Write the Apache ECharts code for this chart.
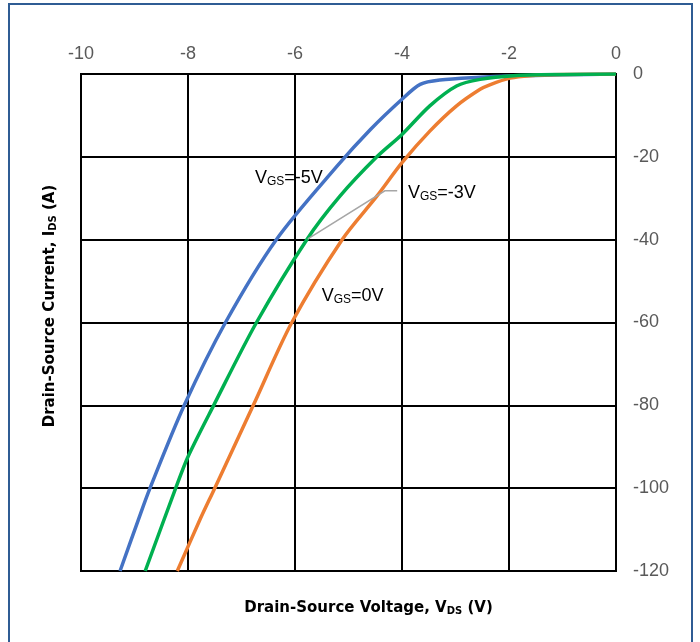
<!DOCTYPE html>
<html>
<head>
<meta charset="utf-8">
<script src="https://cdn.jsdelivr.net/npm/echarts@6/dist/echarts.min.js"></script>
<style>
  html, body { margin: 0; padding: 0; background: #fff; }
  #chart { width: 700px; height: 642px; }
</style>
</head>
<body>
<div id="chart"></div>
<script>
// Output characteristics: drain-source voltage (V) vs drain-source current (A)
const vdsTicks = [-10, -8, -6, -4, -2, 0];
const idsTicks = [0, -20, -40, -60, -80, -100, -120];

// VGS = -5V
const vgsMinus5Vds = [-9.27, -8.93, -8.71, -8.07, -7.30, -6.35, -5.21, -4.59, -4.0, -3.66, -3.29, -2.54, -2.0, -1.0, 0];
const vgsMinus5Ids = [-120, -107.7, -100, -80, -60, -40, -22.2, -13.4, -6.1, -2.5, -1.45, -0.8, -0.5, -0.2, 0];

// VGS = -3V
const vgsMinus3Vds = [-8.80, -8.23, -8.0, -7.52, -6.72, -5.78, -5.16, -4.47, -4.0, -3.48, -2.98, -2.54, -1.92, -1.0, 0];
const vgsMinus3Ids = [-120, -100, -92.4, -80, -60, -40, -29.5, -20, -14.6, -7.7, -2.9, -1.3, -0.4, -0.1, 0];

// VGS = 0V
const vgs0Vds = [-8.20, -7.78, -7.50, -6.78, -6.06, -5.12, -4.47, -4.0, -3.48, -2.98, -2.54, -2.36, -1.98, -1.61, -1.0, 0];
const vgs0Ids = [-120, -107.7, -100, -80, -60, -40, -29.5, -21.4, -13.8, -7.7, -3.7, -2.6, -1.0, -0.4, -0.12, 0];

// Curve labels: [text suffix, anchor vds, anchor ids]
const curveLabels = [
  ['-5V', -6.75, -25.1],
  ['-3V', -3.89, -28.7],
  ['0V', -5.50, -53.6]
];
// Leader line for the VGS=-3V label (vds, ids)
const leaderVds = [-4.09, -4.32, -5.76];
const leaderIds = [-28.2, -28.2, -39.8];

const zip = (xs, ys) => xs.map((x, i) => [x, ys[i]]);

const textGray = '#595959';
const tickFont = "'Liberation Sans Narrow', 'Liberation Sans', sans-serif";
const titleFont = "'DejaVu Sans', sans-serif";
const chart = echarts.init(document.getElementById('chart'), null, { renderer: 'canvas' });

const lineSeries = (name, xs, ys, color) => ({
  name: name,
  type: 'line',
  data: zip(xs, ys),
  smooth: 0.3,
  showSymbol: false,
  lineStyle: { color: color, width: 3.5 },
  itemStyle: { color: color },
  z: 3
});

chart.setOption({
  animation: false,
  backgroundColor: '#ffffff',
  grid: { left: 81, right: 84, top: 74, bottom: 71, containLabel: false },
  xAxis: {
    type: 'value',
    position: 'top',
    min: vdsTicks[0],
    max: vdsTicks[vdsTicks.length - 1],
    interval: 2,
    axisLine: { show: true, onZero: false, lineStyle: { color: '#000', width: 2 } },
    axisTick: { show: false },
    axisLabel: { color: textGray, fontSize: 18, margin: 11, fontFamily: tickFont },
    splitLine: { show: true, lineStyle: { color: '#000', width: 2 } }
  },
  yAxis: {
    type: 'value',
    position: 'right',
    min: idsTicks[idsTicks.length - 1],
    max: idsTicks[0],
    interval: 20,
    axisLine: { show: true, onZero: false, lineStyle: { color: '#000', width: 2 } },
    axisTick: { show: false },
    axisLabel: { color: textGray, fontSize: 18, margin: 17, align: 'left', fontFamily: tickFont },
    splitLine: { show: true, lineStyle: { color: '#000', width: 2 } }
  },
  series: [
    lineSeries('VGS=-5V', vgsMinus5Vds, vgsMinus5Ids, '#4472C4'),
    lineSeries('VGS=0V', vgs0Vds, vgs0Ids, '#ED7D31'),
    lineSeries('VGS=-3V', vgsMinus3Vds, vgsMinus3Ids, '#00B050')
  ]
});

const corner0 = chart.convertToPixel({ gridIndex: 0 }, [vdsTicks[0], idsTicks[idsTicks.length - 1]]);
const corner1 = chart.convertToPixel({ gridIndex: 0 }, [vdsTicks[vdsTicks.length - 1], idsTicks[0]]);

const richSub = {
  m: { fontSize: 18, color: textGray, fontFamily: tickFont },
  s: { fontSize: 12, color: textGray, fontFamily: tickFont, padding: [8, 0, 0, 0] }
};

const graphics = [];

// Outer chart border
graphics.push({
  type: 'rect',
  shape: { x: 9, y: 4, width: 683, height: 642 },
  style: { fill: 'none', stroke: '#2F5C94', lineWidth: 2 },
  silent: true, z: 0
});

// Plot-area frame
graphics.push({
  type: 'rect',
  shape: { x: corner0[0], y: corner1[1], width: corner1[0] - corner0[0], height: corner0[1] - corner1[1] },
  style: { fill: 'none', stroke: '#000', lineWidth: 2 },
  silent: true, z: 1
});

// Leader line
graphics.push({
  type: 'polyline',
  shape: { points: zip(leaderVds, leaderIds).map(p => chart.convertToPixel({ gridIndex: 0 }, p)) },
  style: { stroke: '#A6A6A6', lineWidth: 1.5, fill: 'none' },
  silent: true, z: 5
});

// Curve labels
curveLabels.forEach(([suffix, vx, vy]) => {
  const p = chart.convertToPixel({ gridIndex: 0 }, [vx, vy]);
  graphics.push({
    type: 'text',
    x: p[0], y: p[1],
    style: {
      text: '{m|V}{s|GS}{m|=' + suffix + '}',
      rich: richSub,
      verticalAlign: 'middle',
      align: 'left'
    },
    silent: true, z: 6
  });
});

// Axis titles
const titleRich = {
  b: { fontSize: 15, fontWeight: 'bold', color: textGray, fontFamily: titleFont },
  t: { fontSize: 10, fontWeight: 'bold', color: textGray, fontFamily: titleFont, padding: [7, 0, 0, 0] }
};
graphics.push({
  type: 'text',
  x: (corner0[0] + corner1[0]) / 2 + 20, y: 608,
  style: {
    text: '{b|Drain-Source Voltage, V}{t|DS}{b| (V)}',
    rich: titleRich,
    align: 'center', verticalAlign: 'middle'
  },
  silent: true
});
graphics.push({
  type: 'text',
  x: 50, y: 306,
  rotation: Math.PI / 2,
  style: {
    text: '{b|Drain-Source Current, I}{t|DS}{b| (A)}',
    rich: titleRich,
    align: 'center', verticalAlign: 'middle'
  },
  silent: true
});

chart.setOption({ graphic: graphics });
</script>
</body>
</html>
